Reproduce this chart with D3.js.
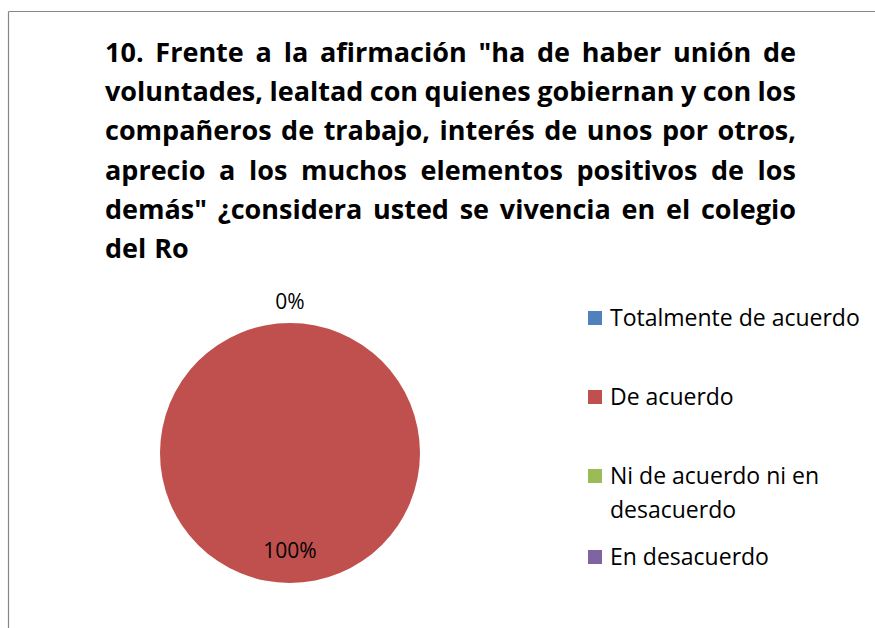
<!DOCTYPE html>
<meta charset="utf-8">
<style>
body { margin: 0; background: white; }
text { font-family: "Open Sans", "Noto Sans", sans-serif; }
</style>
<body>
<script src="https://d3js.org/d3.v7.min.js"></script>
<script>
// data
var categories = ["Totalmente de acuerdo", "De acuerdo", "Ni de acuerdo ni en desacuerdo", "En desacuerdo"];
var values = [0, 100, 0, 0];
var colors = ["#4F81BD", "#C0504D", "#9BBB59", "#8064A2"];
var titleLines = [
  "10. Frente a la afirmación \"ha de haber unión de",
  "voluntades, lealtad con quienes gobiernan y con los",
  "compañeros de trabajo, interés de unos por otros,",
  "aprecio a los muchos elementos positivos de los",
  "demás\" ¿considera usted se vivencia en el colegio",
  "del Ro"
];
var legendLines = [["Totalmente de acuerdo"], ["De acuerdo"], ["Ni de acuerdo ni en", "desacuerdo"], ["En desacuerdo"]];

var width = 875, height = 628;
var svg = d3.select("body").append("svg")
    .attr("width", width)
    .attr("height", height);

// chart border (only top & left visible in the crop)
svg.append("line").attr("x1", 8.5).attr("x2", width).attr("y1", 11.5).attr("y2", 11.5)
    .attr("stroke", "#878787").attr("stroke-width", 1.2);
svg.append("line").attr("x1", 8.5).attr("x2", 8.5).attr("y1", 11.5).attr("y2", height)
    .attr("stroke", "#878787").attr("stroke-width", 1.2);

// title, justified between left and right
var tLeft = 105, tRight = 796, tTop = 62, tStep = 39.2;
titleLines.forEach(function(line, li) {
  var words = line.split(" ");
  var y = tTop + li * tStep;
  var g = svg.append("g");
  var nodes = words.map(function(w) {
    return g.append("text").attr("y", y)
      .attr("font-size", 27).attr("font-weight", "bold").attr("fill", "#000")
      .text(w);
  });
  var widths = nodes.map(function(n) { return n.node().getComputedTextLength(); });
  var total = d3.sum(widths);
  var last = li === titleLines.length - 1;
  var gap = last ? 8 : (tRight - tLeft - total) / (words.length - 1);
  var x = tLeft;
  nodes.forEach(function(n, i) {
    n.attr("x", x);
    x += widths[i] + gap;
  });
});

// pie
var cx = 290, cy = 453, radius = 130;
var pie = d3.pie().sort(null);
var arc = d3.arc().innerRadius(0).outerRadius(radius);
var arcs = pie(values);
var pg = svg.append("g").attr("transform", "translate(" + cx + "," + cy + ")");

pg.selectAll("path")
  .data(arcs)
  .enter().append("path")
    .attr("d", arc)
    .attr("fill", function(d, i) { return colors[i]; });

// labels: zero slice outside, others inside
var inner = d3.arc().innerRadius(radius * 0.75).outerRadius(radius * 0.75);
var outer = d3.arc().innerRadius(radius + 21).outerRadius(radius + 21);
var fmt = function(v) { return Math.round(v / d3.sum(values) * 100) + "%"; };

pg.selectAll("text.lbl")
  .data(arcs.filter(function(d, i) { return i < 2; }))
  .enter().append("text")
    .attr("class", "lbl")
    .attr("transform", function(d) {
      var c = (d.value === 0 ? outer : inner).centroid(d);
      return "translate(" + c + ")";
    })
    .attr("text-anchor", "middle")
    .attr("dy", "0.35em")
    .attr("font-size", 21)
    .attr("fill", "#000")
    .text(function(d) { return fmt(d.value); });

// legend
var legY = [318, 397, 476, 557];
var lg = svg.append("g");
categories.forEach(function(c, i) {
  lg.append("rect")
    .attr("x", 588).attr("y", legY[i] - 7)
    .attr("width", 14).attr("height", 14)
    .attr("fill", colors[i]);
  legendLines[i].forEach(function(t, j) {
    lg.append("text")
      .attr("x", 610).attr("y", legY[i] + j * 34)
      .attr("dy", "0.35em")
      .attr("font-size", 23)
      .attr("fill", "#000")
      .text(t);
  });
});
</script>
</body>
